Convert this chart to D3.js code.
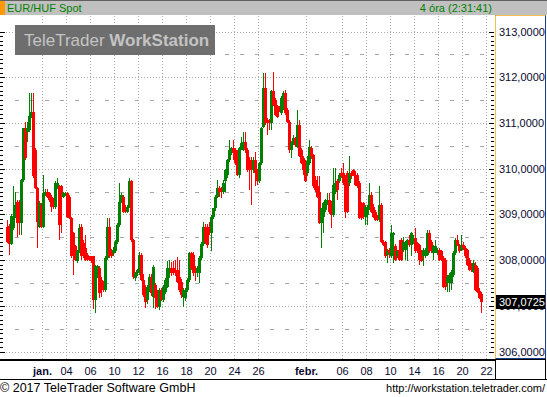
<!DOCTYPE html>
<html>
<head>
<meta charset="utf-8">
<script src="https://cdn.jsdelivr.net/npm/d3@7"></script>
<style>
    body { margin: 0; background: #fff; }
    svg { display: block; font-family: "Liberation Sans", Arial, sans-serif; }
</style>
</head>
<body>
<svg width="547" height="397"></svg>
<script>
const width = 547;
const height = 397;

const plot = { left: 0, right: 495, top: 16, bottom: 359 };

// trading days (last one only carries the final tick)
const days = ["12-28", "12-29", "12-30", "01-02", "01-03", "01-04", "01-05", "01-06", "01-09", "01-10",
    "01-11", "01-12", "01-13", "01-16", "01-17", "01-18", "01-19", "01-20", "01-23", "01-24",
    "01-25", "01-26", "01-27", "01-30", "01-31", "02-01", "02-02", "02-03", "02-06", "02-07",
    "02-08", "02-09", "02-10", "02-13", "02-14", "02-15", "02-16", "02-17", "02-20", "02-21", "02-22"];

const tickDays = ["01-02", "01-04", "01-06", "01-10", "01-12", "01-16", "01-18", "01-20", "01-24", "01-26",
    "02-01", "02-06", "02-08", "02-10", "02-14", "02-16", "02-20", "02-22"];
const tickLabels = ["jan.", "04", "06", "10", "12", "16", "18", "20", "24", "26",
    "febr.", "06", "08", "10", "14", "16", "20", "22"];

const priceTicks = [306, 307, 308, 309, 310, 311, 312, 313];
const halfTicks = [306.5, 307.5, 308.5, 309.5, 310.5, 311.5, 312.5];

// 4 hour candles, six per day: [open, high, low, close]
const candles = [
    [[308.73,308.88,308.38,308.40],[308.75,308.78,308.11,308.36],[308.36,309.00,308.33,308.97],[308.70,309.62,308.65,308.97],[308.97,309.50,308.93,309.20],[309.28,309.32,308.51,308.81]],
    [[309.13,309.32,308.54,308.81],[308.81,309.78,308.54,309.75],[309.75,310.90,309.70,310.88],[310.88,311.03,310.20,310.23],[310.81,311.03,310.59,310.88],[310.85,311.65,310.80,311.15]],
    [[311.15,311.65,311.10,311.25],[311.25,311.65,309.80,309.83],[310.41,310.45,309.55,309.57],[309.57,309.60,308.27,308.84],[308.73,309.30,308.70,309.24],[309.21,309.25,308.70,308.73]],
    [[308.73,309.86,308.70,309.46],[309.46,309.55,309.40,309.50],[309.50,309.55,309.35,309.39],[309.46,309.50,309.28,309.32],[309.39,309.42,309.06,309.17],[309.32,309.36,309.12,309.17]],
    [[309.17,309.72,309.12,309.68],[309.61,309.79,309.55,309.68],[309.61,309.65,308.44,308.77],[309.61,309.65,308.59,309.39],[309.39,309.50,309.35,309.46],[309.43,309.50,309.40,309.46]],
    [[309.46,309.50,308.92,308.95],[309.39,309.42,308.90,308.92],[308.92,308.95,308.05,308.08],[308.59,308.62,307.67,308.08],[308.30,308.33,307.97,308.00],[307.97,308.22,307.93,308.19]],
    [[308.19,308.80,308.15,308.70],[308.73,308.80,308.00,308.08],[308.37,308.45,308.05,308.11],[308.26,308.55,307.98,308.00],[308.11,308.15,307.97,308.00],[308.08,308.10,307.97,308.00]],
    [[308.04,308.08,307.93,307.97],[308.08,308.10,306.92,307.13],[307.13,307.90,306.84,307.86],[307.75,307.90,307.60,307.86],[307.82,307.86,307.18,307.27],[307.57,307.62,307.20,307.35]],
    [[307.49,307.55,307.30,307.35],[307.35,308.08,307.30,308.04],[308.04,308.92,308.00,308.73],[308.73,308.92,308.05,308.08],[308.19,308.25,308.04,308.08],[308.15,308.28,308.10,308.22]],
    [[308.19,308.44,308.15,308.40],[308.40,308.81,308.36,308.77],[308.77,309.68,308.73,309.28],[309.28,309.46,309.24,309.43],[309.39,309.42,309.03,309.06],[309.17,309.20,309.03,309.06]],
    [[309.06,309.20,309.02,309.17],[309.17,309.79,309.13,309.72],[309.72,309.75,308.40,308.44],[308.44,308.47,307.58,307.62],[307.60,307.75,307.55,307.71],[307.71,307.80,307.65,307.78]],
    [[307.72,308.18,307.68,308.12],[308.12,308.15,307.55,307.57],[307.57,307.70,307.20,307.24],[307.40,307.45,306.95,307.09],[307.12,307.45,307.05,307.42],[307.38,307.70,307.30,307.64]],
    [[307.64,307.70,307.22,307.27],[307.20,307.90,306.95,307.85],[307.45,307.50,306.92,307.17],[307.27,307.35,306.95,306.98],[306.98,307.40,306.90,307.35],[307.35,307.40,307.10,307.13]],
    [[307.13,307.45,307.08,307.42],[307.30,307.60,307.25,307.57],[307.42,307.97,307.38,307.82],[307.71,308.00,307.60,307.82],[307.82,307.95,307.65,307.71],[307.82,307.97,307.68,307.71]],
    [[307.78,308.00,307.65,307.71],[307.78,308.07,307.50,307.53],[307.64,308.00,307.30,307.35],[307.53,307.58,307.17,307.24],[307.20,307.38,306.98,307.35],[307.17,307.40,307.10,307.35]],
    [[307.35,307.60,307.30,307.57],[307.57,308.18,307.52,308.15],[308.15,308.18,307.78,307.82],[308.12,308.18,307.65,307.71],[307.82,307.88,307.55,307.71],[307.71,307.88,307.62,307.82]],
    [[307.71,308.08,307.50,308.04],[308.04,308.40,308.00,308.36],[308.36,308.84,308.30,308.73],[308.73,308.80,308.35,308.40],[308.73,308.80,308.26,308.33],[308.73,308.84,308.55,308.59]],
    [[308.59,308.98,308.19,308.95],[308.95,309.15,308.90,309.13],[309.13,309.42,309.08,309.39],[309.39,309.75,309.35,309.57],[309.57,309.62,309.39,309.50],[309.57,309.60,309.35,309.50]],
    [[309.50,309.75,309.45,309.68],[309.72,310.00,309.50,309.97],[309.86,310.22,309.80,310.19],[310.19,310.63,310.15,310.41],[310.37,310.48,310.30,310.45],[310.45,310.63,310.19,310.34]],
    [[310.41,310.45,310.08,310.12],[310.34,310.40,309.83,309.86],[309.86,310.48,309.80,310.45],[310.45,310.70,310.40,310.56],[310.41,310.81,310.38,310.59],[310.59,310.81,310.35,310.41]],
    [[310.41,310.45,309.93,309.97],[310.19,310.25,309.53,309.97],[310.19,310.25,309.21,309.97],[309.97,310.25,309.90,310.19],[310.19,310.37,309.61,309.90],[309.97,310.00,309.65,309.72]],
    [[309.72,310.15,309.68,310.12],[310.12,310.92,310.08,310.88],[310.92,312.09,310.88,311.76],[311.76,312.09,310.95,310.99],[311.07,311.10,310.74,310.99],[311.03,311.08,310.85,310.99]],
    [[310.99,311.72,310.85,311.69],[311.69,312.12,311.36,311.40],[311.50,311.55,311.15,311.18],[311.36,311.40,311.10,311.14],[311.32,311.36,311.25,311.29],[311.21,311.58,311.18,311.54]],
    [[311.32,311.69,311.28,311.65],[311.65,311.72,311.18,311.21],[311.29,311.33,311.00,311.03],[311.03,311.06,310.35,310.41],[310.41,310.60,310.23,310.56],[310.56,310.74,310.52,310.67]],
    [[310.67,310.70,310.48,310.52],[310.48,311.29,310.45,310.96],[310.96,311.07,310.25,310.27],[310.41,310.45,310.10,310.12],[310.23,310.27,309.86,309.97],[310.16,310.20,309.70,309.72]],
    [[309.90,310.27,309.85,310.16],[310.12,310.63,310.08,310.48],[310.45,310.50,310.22,310.27],[310.30,310.33,309.58,309.61],[309.75,309.83,309.50,309.54],[309.61,309.83,309.36,309.39]],
    [[309.50,309.83,308.80,308.81],[308.81,309.15,308.26,309.13],[308.95,309.26,308.59,309.24],[309.10,309.34,309.05,309.32],[309.28,309.46,309.20,309.32],[309.32,309.46,309.00,309.06]],
    [[309.24,309.30,308.70,308.99],[308.99,310.01,308.95,309.65],[309.50,310.01,309.45,309.68],[309.72,309.78,309.32,309.54],[309.72,309.90,309.68,309.86],[309.90,310.01,309.80,309.83]],
    [[309.90,310.12,309.65,309.68],[309.83,309.86,308.92,309.06],[309.90,309.95,309.02,309.06],[309.68,310.27,309.62,309.90],[309.90,309.95,309.78,309.83],[309.97,310.00,309.83,309.86]],
    [[309.86,309.95,309.62,309.65],[309.86,309.90,309.58,309.61],[309.68,309.72,308.90,308.92],[309.24,309.28,308.88,308.92],[309.24,309.28,308.90,308.95],[308.95,309.20,308.77,309.17]],
    [[308.99,309.20,308.77,309.17],[309.17,309.68,309.10,309.43],[309.43,309.48,309.02,309.06],[309.17,309.22,308.92,308.95],[309.06,309.10,308.85,308.88],[308.95,308.99,308.85,308.88]],
    [[308.88,309.61,308.84,309.21],[309.21,309.25,308.38,308.40],[308.40,308.45,308.30,308.33],[308.40,308.42,308.05,308.08],[308.11,308.25,307.93,308.19],[308.22,308.26,308.04,308.15]],
    [[308.08,308.77,308.04,308.59],[308.55,308.62,307.93,308.59],[308.30,308.35,307.97,308.00],[308.08,308.22,308.04,308.19],[308.22,308.44,307.97,308.00],[308.44,308.48,307.97,308.00]],
    [[308.22,308.51,308.18,308.40],[308.22,308.42,308.00,308.37],[308.33,308.47,307.97,308.44],[308.44,308.55,308.28,308.33],[308.33,308.62,308.08,308.59],[308.40,308.55,308.36,308.48]],
    [[308.48,308.70,308.16,308.19],[308.37,308.40,308.15,308.19],[308.33,308.36,307.90,308.00],[308.19,308.22,307.95,307.97],[308.08,308.26,307.86,308.22],[308.08,308.26,308.04,308.22]],
    [[308.11,308.66,308.08,308.59],[308.59,308.66,308.15,308.19],[308.40,308.44,308.15,308.19],[308.15,308.33,308.00,308.30],[308.19,308.44,308.15,308.30],[308.15,308.26,308.11,308.22]],
    [[308.22,308.26,307.97,308.00],[308.19,308.22,307.97,308.00],[308.04,308.08,307.40,307.42],[308.00,308.04,307.35,307.42],[307.49,307.68,307.31,307.64],[307.49,307.72,307.31,307.68]],
    [[307.49,307.78,307.35,307.75],[307.68,308.19,307.64,308.15],[308.15,308.48,308.11,308.44],[308.44,308.55,308.30,308.33],[308.33,308.36,308.15,308.19],[308.22,308.55,308.19,308.33]],
    [[308.33,308.40,308.22,308.26],[308.26,308.30,308.05,308.08],[308.22,308.25,307.88,307.90],[308.00,308.04,307.77,307.79],[307.90,307.93,307.75,307.79],[307.75,308.00,307.72,307.93]],
    [[307.90,307.95,307.33,307.35],[307.82,307.86,307.28,307.31],[307.33,307.40,307.15,307.18],[307.25,307.30,306.85,307.0725]]
];

const lastPrice = 307.0725;

// flatten into one list of bars
const bars = [];
candles.forEach((day, i) => {
    day.forEach((c, j) => {
        bars.push({ n: i * 6 + j, o: c[0], h: c[1], l: c[2], c: c[3] });
    });
});

const svg = d3.select("svg");

// x scale: candle index -> pixel
const xScale = d3.scaleLinear()
    .domain([0, days.length * 6])
    .range([6, 6 + 2 * days.length * 6]);

// y scale
const yScale = d3.scaleLinear()
    .domain([306, 313])
    .range([351.5, 31.5]);

const fmt = d3.formatLocale({ decimal: ",", thousands: ".", grouping: [3], currency: ["", ""] }).format(".4f");

const gridColor = "#a8a8a8";
const py = v => Math.round(yScale(v)) + 0.5;

// background
svg.append("rect")
    .attr("width", width)
    .attr("height", height)
    .attr("fill", "#fff");

// header bar
svg.append("rect")
    .attr("x", 0).attr("y", 0)
    .attr("width", width).attr("height", 15)
    .attr("fill", "#c0c0c0");

svg.append("rect")
    .attr("x", 0).attr("y", 0)
    .attr("width", width).attr("height", 1)
    .attr("fill", "#606060");

svg.append("rect")
    .attr("x", 0).attr("y", 1)
    .attr("width", 5).attr("height", 14)
    .attr("fill", "#ff9900");

svg.append("text")
    .attr("x", 7)
    .attr("y", 12)
    .attr("fill", "#008000")
    .style("font-size", "11px")
    .text("EUR/HUF Spot");

svg.append("text")
    .attr("x", 492)
    .attr("y", 12)
    .attr("text-anchor", "end")
    .attr("fill", "#008000")
    .style("font-size", "11px")
    .text("4 óra (2:31:41)");

// horizontal grid, whole units dotted
svg.append("g")
    .selectAll("line")
    .data(priceTicks)
    .join("line")
    .attr("x1", plot.left)
    .attr("x2", plot.right - 3)
    .attr("y1", d => py(d))
    .attr("y2", d => py(d))
    .attr("stroke", gridColor)
    .attr("stroke-dasharray", "1,2");

// half units dashed
svg.append("g")
    .selectAll("line")
    .data(halfTicks)
    .join("line")
    .attr("x1", plot.left + 15)
    .attr("x2", plot.right - 3)
    .attr("y1", d => py(d))
    .attr("y2", d => py(d))
    .attr("stroke", gridColor)
    .attr("stroke-dasharray", "4,11");

// vertical grid at labelled days
const tickIdx = tickDays.map(d => days.indexOf(d) * 6);

svg.append("g")
    .selectAll("line")
    .data(tickIdx)
    .join("line")
    .attr("x1", d => Math.round(xScale(d)) + 0.5)
    .attr("x2", d => Math.round(xScale(d)) + 0.5)
    .attr("y1", plot.top)
    .attr("y2", plot.bottom)
    .attr("stroke", gridColor)
    .attr("stroke-dasharray", "1,2");

// watermark
svg.append("rect")
    .attr("x", 15).attr("y", 25)
    .attr("width", 200).attr("height", 30)
    .attr("fill", "#6e6e6e");

const wm = svg.append("text")
    .attr("x", 24)
    .attr("y", 46)
    .attr("fill", "#c4c4c4")
    .style("font-size", "17px");
wm.append("tspan").text("TeleTrader ");
wm.append("tspan").style("font-weight", "bold").text("WorkStation");

// candles
svg.append("clipPath")
    .attr("id", "clip")
    .append("rect")
    .attr("x", plot.left).attr("y", plot.top)
    .attr("width", plot.right - plot.left).attr("height", plot.bottom - plot.top);

const candleG = svg.append("g")
    .attr("clip-path", "url(#clip)")
    .attr("shape-rendering", "crispEdges");

const colorOf = d => d.c >= d.o ? "#008000" : "#ff0000";

candleG.selectAll(".wick")
    .data(bars)
    .join("rect")
    .attr("class", "wick")
    .attr("x", d => xScale(d.n) + 1)
    .attr("width", 1)
    .attr("y", d => yScale(d.h))
    .attr("height", d => Math.max(1, yScale(d.l) - yScale(d.h)))
    .attr("fill", colorOf);

candleG.selectAll(".body")
    .data(bars)
    .join("rect")
    .attr("class", "body")
    .attr("x", d => xScale(d.n))
    .attr("width", 3)
    .attr("y", d => yScale(Math.max(d.o, d.c)))
    .attr("height", d => Math.max(1, Math.abs(yScale(d.o) - yScale(d.c))))
    .attr("fill", colorOf);

// side ticks every 0.1
const minor = yScale.ticks(70);

svg.append("g")
    .selectAll("line")
    .data(minor)
    .join("line")
    .attr("x1", 0)
    .attr("x2", d => Math.abs(d - Math.round(d)) < 1e-6 ? 5 : 3)
    .attr("y1", d => py(d))
    .attr("y2", d => py(d))
    .attr("stroke", "#000");

svg.append("g")
    .selectAll("line")
    .data(minor)
    .join("line")
    .attr("x1", d => Math.abs(d - Math.round(d)) < 1e-6 ? 489 : 491)
    .attr("x2", 494)
    .attr("y1", d => py(d))
    .attr("y2", d => py(d))
    .attr("stroke", "#000");

// right axis panel
svg.append("rect")
    .attr("x", 495.5).attr("y", 15.5)
    .attr("width", 50).attr("height", 343)
    .attr("fill", "#fff")
    .attr("stroke", "#1e3c8c");

svg.append("path")
    .attr("d", "M495.5,358.5V15.5H545.5")
    .attr("fill", "none")
    .attr("stroke", "#f0c050");

const yAxis = d3.axisRight(yScale)
    .tickValues(priceTicks)
    .tickSize(0)
    .tickPadding(4)
    .tickFormat(fmt);

const yG = svg.append("g")
    .attr("transform", "translate(495,0)")
    .call(yAxis);
yG.select(".domain").remove();
yG.selectAll("text")
    .attr("fill", "#0a0a30")
    .style("font-size", "11px")
    .style("font-family", "'Liberation Sans', Arial, sans-serif");

// last price box
svg.append("rect")
    .attr("x", 496).attr("y", Math.round(yScale(lastPrice)) - 7)
    .attr("width", 49).attr("height", 14)
    .attr("fill", "#000");

svg.append("text")
    .attr("x", 499)
    .attr("y", yScale(lastPrice))
    .attr("dy", "0.35em")
    .attr("fill", "#fff")
    .style("font-size", "11px")
    .text(fmt(lastPrice));

// x axis area
svg.append("rect")
    .attr("x", 0).attr("y", 359)
    .attr("width", 496).attr("height", 2)
    .attr("fill", "#000");

svg.append("rect")
    .attr("x", 495.5).attr("y", 359.5)
    .attr("width", 50).attr("height", 20)
    .attr("fill", "none")
    .attr("stroke", "#000");

svg.append("line")
    .attr("x1", 0).attr("x2", width)
    .attr("y1", 379.5).attr("y2", 379.5)
    .attr("stroke", "#000");

const xAxis = d3.axisBottom(xScale)
    .tickValues(tickIdx)
    .tickSize(0)
    .tickPadding(6)
    .tickFormat((d, i) => tickLabels[i]);

const xG = svg.append("g")
    .attr("transform", "translate(0,361)")
    .call(xAxis);
xG.select(".domain").remove();
xG.selectAll("text")
    .attr("fill", "#0a0a30")
    .style("font-size", "11px")
    .style("font-family", "'Liberation Sans', Arial, sans-serif")
    .style("font-weight", (d, i) => /\./.test(tickLabels[i]) ? "bold" : "normal");

// footer
svg.append("text")
    .attr("x", 0)
    .attr("y", 392)
    .style("font-size", "12.5px")
    .text("© 2017 TeleTrader Software GmbH");

svg.append("text")
    .attr("x", 545)
    .attr("y", 392)
    .attr("text-anchor", "end")
    .style("font-size", "11px")
    .text("http://workstation.teletrader.com/");
</script>
</body>
</html>
